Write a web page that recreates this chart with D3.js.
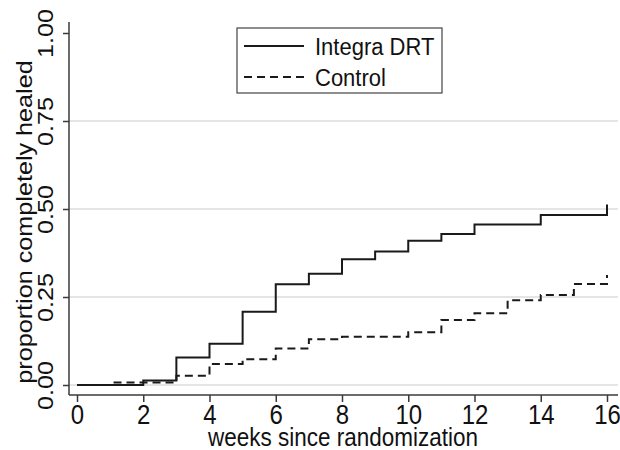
<!DOCTYPE html>
<html>
<head>
<meta charset="utf-8">
<script src="https://cdn.jsdelivr.net/npm/d3@7"></script>
<style>
  html, body { margin: 0; padding: 0; background: #fff; }
  svg { display: block; font-family: "Liberation Sans", Arial, sans-serif; }
</style>
</head>
<body>
<svg id="chart" width="620" height="450"></svg>
<script>
// ---- data ----
const integraWeeks = [0, 2, 3, 4, 5, 6, 7, 8, 9, 10, 11, 12, 14, 16];
const integraValues = [0, 0.0125, 0.078, 0.117, 0.208, 0.286, 0.316, 0.357, 0.379, 0.41, 0.429, 0.456, 0.483, 0.513];
const controlWeeks = [0, 1, 3, 4, 5, 6, 7, 8, 10, 11, 12, 13, 14, 15, 16];
const controlValues = [0, 0.007, 0.026, 0.06, 0.073, 0.104, 0.13, 0.137, 0.15, 0.185, 0.204, 0.241, 0.256, 0.287, 0.3125];
const xTicks = [0, 2, 4, 6, 8, 10, 12, 14, 16];
const yTicks = [0, 0.25, 0.5, 0.75, 1];
const gridValues = [0, 0.25, 0.5, 0.75];
const seriesNames = ["Integra DRT", "Control"];
const xTitle = "weeks since randomization";
const yTitle = "proportion completely healed";

// ---- layout ----
const svg = d3.select("#chart");
const axisX = 69, axisY = 395, rightEdge = 618, topEdge = 22;
const x = d3.scaleLinear().domain([0, 16]).range([77, 607]);
const y = d3.scaleLinear().domain([0, 1]).range([385, 33]);
const SY = 1.12; // slight vertical stretch of text in the reference
const FS = 22.5;
const axisColor = "#3a3a3a";
const textColor = "#111";

// gridlines
svg.append("g").selectAll("line").data(gridValues).join("line")
  .attr("x1", axisX).attr("x2", rightEdge)
  .attr("y1", d => y(d)).attr("y2", d => y(d))
  .attr("stroke", "#dcdcdc").attr("stroke-width", 1.5);

// y axis
const gy = svg.append("g").attr("transform", `translate(${axisX},0)`)
  .call(d3.axisLeft(y).tickValues(yTicks).tickSize(6).tickFormat(d3.format(".2f")));
gy.select(".domain").remove();
gy.selectAll(".tick line").attr("stroke", axisColor).attr("stroke-width", 1.5);
gy.selectAll(".tick text")
  .attr("x", null).attr("y", null).attr("dy", null)
  .attr("text-anchor", "middle")
  .attr("font-size", FS).attr("fill", textColor)
  .attr("font-family", "Liberation Sans, Arial, sans-serif")
  .attr("transform", `translate(-16,0) scale(1,${SY}) rotate(-90)`);
svg.append("line").attr("x1", axisX).attr("x2", axisX)
  .attr("y1", topEdge).attr("y2", axisY)
  .attr("stroke", axisColor).attr("stroke-width", 1.5);

// x axis
const gx = svg.append("g").attr("transform", `translate(0,${axisY})`)
  .call(d3.axisBottom(x).tickValues(xTicks).tickSize(7).tickFormat(d3.format("d")));
gx.select(".domain").remove();
gx.selectAll(".tick line").attr("stroke", axisColor).attr("stroke-width", 1.5);
gx.selectAll(".tick text")
  .attr("y", null).attr("dy", null)
  .attr("text-anchor", "middle")
  .attr("font-size", 24).attr("fill", textColor)
  .attr("font-family", "Liberation Sans, Arial, sans-serif")
  .attr("transform", `translate(0,29) scale(1,${SY})`);
svg.append("line").attr("x1", axisX).attr("x2", rightEdge)
  .attr("y1", axisY).attr("y2", axisY)
  .attr("stroke", axisColor).attr("stroke-width", 1.5);

// axis titles
svg.append("text")
  .attr("transform", `translate(${(x(0) + x(16)) / 2 + 1},446) scale(1,${SY})`)
  .attr("text-anchor", "middle").attr("font-size", FS).attr("fill", textColor)
  .text(xTitle);
svg.append("text")
  .attr("transform", `translate(32,222) scale(1,${SY}) rotate(-90)`)
  .attr("text-anchor", "middle").attr("font-size", FS).attr("fill", textColor)
  .text(yTitle);

// curves
const line = d3.line().curve(d3.curveStepAfter).x(d => x(d[0])).y(d => y(d[1]));
const integra = integraWeeks.map((w, i) => [w, integraValues[i]]);
const control = controlWeeks.map((w, i) => [w, controlValues[i]]);
svg.append("path").datum(control).attr("d", line)
  .attr("fill", "none").attr("stroke", "#1a1a1a").attr("stroke-width", 2)
  .attr("stroke-dasharray", "8,5");
svg.append("path").datum(integra).attr("d", line)
  .attr("fill", "none").attr("stroke", "#1a1a1a").attr("stroke-width", 2);

// legend
const lg = svg.append("g");
lg.append("rect").attr("x", 237).attr("y", 28).attr("width", 205).attr("height", 65)
  .attr("fill", "#fff").attr("stroke", "#444").attr("stroke-width", 1.2);
const legendRows = [
  { name: seriesNames[0], dash: null, ly: 46 },
  { name: seriesNames[1], dash: "8,5", ly: 77 }
];
legendRows.forEach(r => {
  lg.append("line").attr("x1", 244).attr("x2", 304).attr("y1", r.ly).attr("y2", r.ly)
    .attr("stroke", "#1a1a1a").attr("stroke-width", 2)
    .attr("stroke-dasharray", r.dash);
  lg.append("text")
    .attr("transform", `translate(315,${r.ly + 9}) scale(1,${SY})`)
    .attr("font-size", 22).attr("fill", textColor)
    .text(r.name);
});
</script>
</body>
</html>
